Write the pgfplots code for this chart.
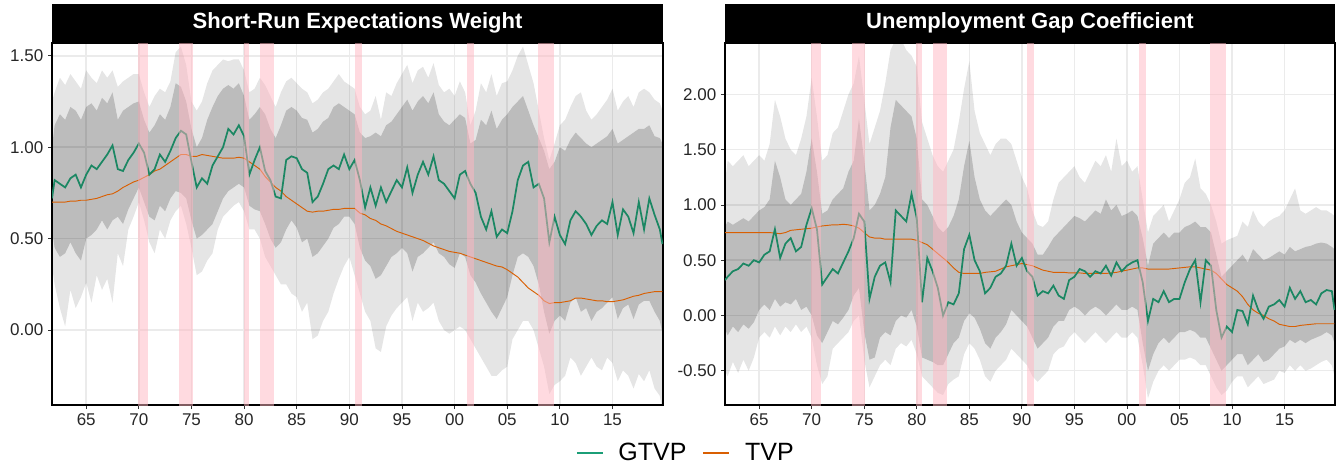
\documentclass[border=0pt]{standalone}
\usepackage{pgfplots}
\pgfplotsset{compat=1.18}
\usepackage{pgfplotstable}
\usepgfplotslibrary{fillbetween}
\usepackage{fontspec}
\setmainfont{Liberation Sans}

\definecolor{gtvp}{HTML}{1B8763}
\definecolor{gtvpkey}{HTML}{1B9E77}
\definecolor{tvp}{HTML}{D95F02}
\definecolor{recpink}{HTML}{FFB6C1}
\definecolor{gridc}{HTML}{EBEBEB}

% x: date, g: GTVP, t: TVP, a/d: outer band, b/c: inner band
\pgfplotstableread{
x g t a b c d
1961.75 0.72 0.70 0.35 0.55 1.00 1.25
1962.0 0.82 0.70 0.25 0.45 1.12 1.30
1962.5 0.80 0.70 0.12 0.40 1.18 1.38
1963.0 0.78 0.70 0.02 0.42 1.15 1.34
1963.5 0.83 0.705 0.22 0.48 1.22 1.40
1964.0 0.85 0.705 0.12 0.42 1.20 1.36
1964.5 0.78 0.71 0.18 0.38 1.15 1.32
1965.0 0.85 0.71 0.26 0.50 1.22 1.42
1965.5 0.90 0.715 0.15 0.52 1.24 1.38
1966.0 0.88 0.72 0.30 0.55 1.20 1.35
1966.5 0.92 0.73 0.22 0.60 1.27 1.42
1967.0 0.96 0.74 0.28 0.55 1.24 1.38
1967.5 1.01 0.745 0.15 0.60 1.30 1.42
1968.0 0.88 0.76 0.42 0.62 1.15 1.33
1968.5 0.87 0.78 0.35 0.58 1.20 1.36
1969.0 0.93 0.795 0.55 0.66 1.22 1.38
1969.5 0.97 0.81 0.62 0.72 1.24 1.40
1970.0 1.02 0.82 0.70 0.78 1.25 1.40
1970.5 0.97 0.835 0.60 0.70 1.15 1.30
1971.0 0.85 0.85 0.48 0.62 1.08 1.22
1971.5 0.88 0.87 0.42 0.60 1.12 1.28
1972.0 0.96 0.88 0.55 0.68 1.18 1.32
1972.5 0.92 0.90 0.50 0.65 1.15 1.30
1973.0 0.98 0.92 0.60 0.72 1.22 1.36
1973.5 1.05 0.94 0.65 0.76 1.35 1.52
1974.0 1.09 0.96 0.68 0.75 1.33 1.55
1974.5 1.07 0.96 0.58 0.72 1.25 1.45
1975.0 0.92 0.95 0.45 0.60 1.10 1.25
1975.5 0.78 0.95 0.30 0.50 1.00 1.20
1976.0 0.83 0.96 0.32 0.52 1.05 1.25
1976.5 0.80 0.955 0.38 0.55 1.15 1.35
1977.0 0.90 0.95 0.42 0.58 1.22 1.42
1977.5 0.95 0.945 0.55 0.65 1.28 1.45
1978.0 1.00 0.94 0.62 0.72 1.32 1.48
1978.5 1.10 0.94 0.65 0.76 1.34 1.47
1979.0 1.07 0.94 0.68 0.78 1.32 1.48
1979.5 1.12 0.945 0.70 0.80 1.35 1.48
1980.0 1.06 0.94 0.65 0.78 1.28 1.42
1980.5 0.85 0.92 0.55 0.68 1.15 1.30
1981.0 0.93 0.90 0.55 0.66 1.18 1.32
1981.5 1.00 0.88 0.50 0.65 1.22 1.38
1982.0 0.87 0.84 0.40 0.58 1.18 1.34
1982.5 0.82 0.81 0.35 0.50 1.10 1.28
1983.0 0.73 0.78 0.30 0.45 1.05 1.22
1983.5 0.72 0.76 0.25 0.48 1.12 1.30
1984.0 0.93 0.73 0.25 0.55 1.20 1.36
1984.5 0.95 0.71 0.20 0.60 1.22 1.38
1985.0 0.94 0.69 0.18 0.56 1.20 1.35
1985.5 0.88 0.67 0.10 0.48 1.16 1.32
1986.0 0.86 0.65 0.15 0.50 1.15 1.30
1986.5 0.70 0.645 -0.05 0.40 1.08 1.24
1987.0 0.73 0.65 -0.03 0.42 1.10 1.26
1987.5 0.80 0.65 0.05 0.46 1.14 1.30
1988.0 0.88 0.655 0.10 0.50 1.16 1.32
1988.5 0.90 0.66 0.20 0.56 1.22 1.36
1989.0 0.88 0.66 0.28 0.58 1.24 1.40
1989.5 0.96 0.665 0.35 0.62 1.22 1.36
1990.0 0.88 0.665 0.40 0.62 1.20 1.34
1990.5 0.93 0.665 0.30 0.58 1.18 1.32
1991.0 0.82 0.64 0.20 0.45 1.08 1.22
1991.5 0.67 0.63 0.10 0.38 1.05 1.18
1992.0 0.78 0.61 0.05 0.35 1.06 1.20
1992.5 0.68 0.60 -0.10 0.28 1.08 1.28
1993.0 0.78 0.58 -0.12 0.30 1.06 1.15
1993.5 0.70 0.57 0.02 0.35 1.12 1.30
1994.0 0.76 0.555 0.08 0.40 1.14 1.28
1994.5 0.82 0.54 0.12 0.42 1.18 1.35
1995.0 0.78 0.53 0.15 0.45 1.22 1.40
1995.5 0.89 0.52 0.18 0.42 1.26 1.45
1996.0 0.75 0.51 0.05 0.32 1.20 1.35
1996.5 0.85 0.50 0.15 0.40 1.25 1.42
1997.0 0.92 0.49 0.10 0.42 1.28 1.44
1997.5 0.85 0.475 0.12 0.45 1.24 1.38
1998.0 0.95 0.46 0.15 0.48 1.30 1.46
1998.5 0.82 0.45 0.05 0.42 1.18 1.34
1999.0 0.80 0.44 0.00 0.40 1.14 1.30
1999.5 0.76 0.43 -0.02 0.36 1.12 1.32
2000.0 0.72 0.425 0.00 0.34 1.15 1.28
2000.5 0.85 0.42 0.02 0.42 1.18 1.36
2001.0 0.87 0.41 0.00 0.40 1.16 1.30
2001.5 0.80 0.40 -0.05 0.30 1.02 1.12
2002.0 0.75 0.39 -0.10 0.26 1.04 1.20
2002.5 0.62 0.38 -0.15 0.20 1.15 1.35
2003.0 0.55 0.37 -0.20 0.15 1.12 1.30
2003.5 0.65 0.36 -0.25 0.10 1.20 1.40
2004.0 0.51 0.35 -0.25 0.06 1.10 1.28
2004.5 0.55 0.345 -0.22 0.12 1.15 1.35
2005.0 0.53 0.33 -0.20 0.18 1.18 1.36
2005.5 0.65 0.31 -0.05 0.30 1.22 1.42
2006.0 0.82 0.29 0.00 0.40 1.25 1.50
2006.5 0.90 0.26 0.05 0.42 1.28 1.55
2007.0 0.92 0.23 0.05 0.40 1.20 1.45
2007.5 0.78 0.21 0.00 0.35 1.12 1.35
2008.0 0.80 0.19 -0.10 0.25 1.05 1.20
2008.5 0.72 0.16 -0.20 0.10 0.98 1.05
2009.0 0.48 0.145 -0.35 -0.02 0.88 0.93
2009.5 0.62 0.15 -0.30 0.05 0.92 1.02
2010.0 0.52 0.15 -0.28 0.08 1.00 1.12
2010.5 0.47 0.155 -0.25 0.05 0.98 1.15
2011.0 0.60 0.16 -0.15 0.15 1.04 1.22
2011.5 0.65 0.175 -0.18 0.18 1.08 1.28
2012.0 0.62 0.175 -0.25 0.10 1.05 1.30
2012.5 0.58 0.17 -0.20 0.12 1.02 1.20
2013.0 0.52 0.165 -0.15 0.05 1.00 1.15
2013.5 0.57 0.16 -0.20 0.10 1.02 1.18
2014.0 0.60 0.16 -0.22 0.12 1.04 1.22
2014.5 0.58 0.155 -0.15 0.15 1.06 1.26
2015.0 0.70 0.155 -0.18 0.18 1.10 1.32
2015.5 0.52 0.16 -0.28 0.06 1.02 1.20
2016.0 0.66 0.165 -0.22 0.12 1.04 1.25
2016.5 0.62 0.175 -0.25 0.14 1.06 1.28
2017.0 0.53 0.185 -0.32 0.06 1.08 1.22
2017.5 0.70 0.19 -0.24 0.14 1.10 1.30
2018.0 0.55 0.20 -0.28 0.16 1.10 1.32
2018.5 0.72 0.205 -0.22 0.16 1.12 1.30
2019.0 0.63 0.21 -0.32 0.10 1.06 1.26
2019.5 0.55 0.21 -0.36 0.05 1.05 1.24
2019.75 0.47 0.21 -0.45 -0.02 1.02 1.20
}\srew

\pgfplotstableread{
x g t a b c d
1961.75 0.32 0.75 -0.50 -0.12 0.80 1.20
1962.0 0.35 0.75 -0.55 -0.18 0.85 1.40
1962.5 0.40 0.75 -0.42 -0.10 0.82 1.35
1963.0 0.42 0.75 -0.52 -0.15 0.85 1.40
1963.5 0.47 0.75 -0.40 -0.08 0.88 1.45
1964.0 0.45 0.75 -0.50 -0.12 0.85 1.35
1964.5 0.50 0.75 -0.38 -0.06 0.90 1.40
1965.0 0.48 0.75 -0.20 0.05 0.95 1.45
1965.5 0.55 0.75 -0.15 0.10 0.98 1.40
1966.0 0.58 0.75 -0.20 0.05 1.05 1.55
1966.5 0.78 0.745 -0.10 0.15 1.40 1.95
1967.0 0.52 0.74 -0.18 0.08 1.25 1.80
1967.5 0.65 0.75 -0.10 0.12 1.05 1.60
1968.0 0.70 0.77 -0.15 0.10 1.00 1.50
1968.5 0.58 0.775 -0.08 0.15 1.05 1.45
1969.0 0.62 0.78 -0.15 0.05 1.10 1.60
1969.5 0.82 0.785 -0.10 0.08 1.30 1.80
1970.0 0.97 0.79 -0.20 0.00 1.60 2.15
1970.5 0.78 0.80 -0.45 -0.18 1.30 1.80
1971.0 0.28 0.81 -0.62 -0.25 0.92 1.40
1971.5 0.35 0.815 -0.55 -0.15 0.95 1.45
1972.0 0.42 0.82 -0.30 -0.05 1.05 1.65
1972.5 0.38 0.82 -0.25 -0.08 1.10 1.70
1973.0 0.48 0.825 -0.20 -0.02 1.15 1.85
1973.5 0.58 0.82 -0.15 0.05 1.30 2.00
1974.0 0.70 0.81 -0.05 0.18 1.40 2.10
1974.5 0.92 0.79 0.00 0.25 1.78 2.35
1975.0 0.85 0.75 -0.40 -0.15 1.40 1.95
1975.5 0.15 0.71 -0.65 -0.40 0.95 1.55
1976.0 0.35 0.70 -0.55 -0.38 1.00 1.70
1976.5 0.45 0.70 -0.45 -0.20 1.10 1.85
1977.0 0.48 0.69 -0.40 -0.15 1.25 2.10
1977.5 0.30 0.69 -0.45 -0.18 1.70 2.40
1978.0 0.95 0.69 -0.30 -0.05 1.95 2.50
1978.5 0.90 0.69 -0.25 0.00 1.90 2.50
1979.0 0.85 0.69 -0.28 -0.02 1.85 2.40
1979.5 1.10 0.69 -0.22 0.05 1.80 2.35
1980.0 0.88 0.68 -0.35 -0.10 1.60 2.25
1980.5 0.12 0.66 -0.55 -0.38 1.05 1.75
1981.0 0.52 0.64 -0.60 -0.40 1.00 1.60
1981.5 0.40 0.60 -0.65 -0.42 0.90 1.45
1982.0 0.25 0.56 -0.70 -0.45 0.80 1.35
1982.5 0.00 0.52 -0.72 -0.45 0.75 1.30
1983.0 0.12 0.48 -0.62 -0.35 0.80 1.40
1983.5 0.10 0.43 -0.58 -0.25 0.90 1.50
1984.0 0.20 0.39 -0.55 -0.20 1.05 1.75
1984.5 0.60 0.38 -0.35 -0.05 1.35 2.05
1985.0 0.73 0.38 -0.25 0.02 1.58 2.30
1985.5 0.50 0.38 -0.30 -0.02 1.25 1.85
1986.0 0.40 0.38 -0.40 -0.12 1.05 1.65
1986.5 0.20 0.39 -0.55 -0.25 0.95 1.55
1987.0 0.25 0.395 -0.60 -0.30 0.90 1.45
1987.5 0.35 0.40 -0.50 -0.20 0.95 1.55
1988.0 0.38 0.42 -0.45 -0.15 1.00 1.60
1988.5 0.45 0.44 -0.40 -0.08 1.05 1.60
1989.0 0.65 0.45 -0.30 0.05 1.00 1.55
1989.5 0.45 0.46 -0.35 0.00 0.85 1.40
1990.0 0.52 0.47 -0.40 -0.05 0.75 1.25
1990.5 0.40 0.46 -0.45 -0.10 0.70 1.15
1991.0 0.35 0.45 -0.55 -0.20 0.65 0.95
1991.5 0.18 0.43 -0.60 -0.30 0.55 0.82
1992.0 0.22 0.41 -0.55 -0.25 0.55 0.80
1992.5 0.20 0.40 -0.50 -0.20 0.62 0.85
1993.0 0.27 0.39 -0.35 -0.10 0.70 1.05
1993.5 0.18 0.39 -0.30 -0.05 0.75 1.20
1994.0 0.15 0.39 -0.28 -0.05 0.80 1.25
1994.5 0.32 0.385 -0.20 0.05 0.85 1.30
1995.0 0.35 0.385 -0.15 0.08 0.90 1.35
1995.5 0.42 0.385 -0.20 0.05 0.88 1.25
1996.0 0.40 0.38 -0.25 0.00 0.85 1.20
1996.5 0.35 0.38 -0.20 0.05 0.90 1.30
1997.0 0.40 0.38 -0.15 0.08 0.95 1.40
1997.5 0.38 0.38 -0.20 0.05 0.92 1.35
1998.0 0.45 0.38 -0.25 0.00 1.05 1.45
1998.5 0.36 0.385 -0.20 0.05 0.95 1.30
1999.0 0.48 0.39 -0.15 0.10 1.00 1.60
1999.5 0.40 0.40 -0.20 0.05 0.90 1.35
2000.0 0.45 0.41 -0.20 0.05 0.92 1.40
2000.5 0.48 0.42 -0.15 0.08 0.95 1.30
2001.0 0.50 0.43 -0.20 0.05 0.90 1.35
2001.5 0.30 0.43 -0.45 -0.25 0.70 1.05
2002.0 -0.05 0.42 -0.75 -0.50 0.45 0.75
2002.5 0.15 0.42 -0.60 -0.35 0.65 0.90
2003.0 0.12 0.42 -0.50 -0.25 0.70 0.95
2003.5 0.22 0.42 -0.45 -0.20 0.75 1.00
2004.0 0.12 0.42 -0.50 -0.25 0.70 0.85
2004.5 0.15 0.425 -0.45 -0.20 0.75 0.95
2005.0 0.15 0.43 -0.40 -0.15 0.75 1.05
2005.5 0.30 0.435 -0.40 -0.15 0.80 1.20
2006.0 0.42 0.44 -0.38 -0.13 0.82 1.25
2006.5 0.50 0.44 -0.40 -0.15 0.85 1.42
2007.0 0.12 0.43 -0.45 -0.20 0.80 1.15
2007.5 0.50 0.42 -0.45 -0.20 0.80 1.10
2008.0 0.45 0.41 -0.55 -0.30 0.75 1.00
2008.5 0.05 0.38 -0.65 -0.40 0.55 0.85
2009.0 -0.20 0.33 -0.72 -0.50 0.35 0.65
2009.5 -0.10 0.28 -0.68 -0.45 0.40 0.68
2010.0 -0.15 0.25 -0.60 -0.40 0.45 0.70
2010.5 0.05 0.22 -0.55 -0.35 0.50 0.72
2011.0 0.04 0.17 -0.55 -0.35 0.55 0.85
2011.5 -0.08 0.10 -0.65 -0.45 0.48 0.80
2012.0 0.18 0.05 -0.60 -0.40 0.60 0.95
2012.5 0.05 0.02 -0.55 -0.35 0.55 0.85
2013.0 -0.03 0.00 -0.62 -0.42 0.50 0.80
2013.5 0.08 -0.03 -0.60 -0.40 0.52 0.85
2014.0 0.10 -0.05 -0.58 -0.35 0.55 0.88
2014.5 0.14 -0.08 -0.50 -0.30 0.58 0.90
2015.0 0.08 -0.09 -0.52 -0.28 0.55 0.95
2015.5 0.25 -0.10 -0.45 -0.22 0.62 1.05
2016.0 0.15 -0.10 -0.50 -0.25 0.58 1.15
2016.5 0.22 -0.09 -0.45 -0.22 0.60 0.95
2017.0 0.12 -0.085 -0.50 -0.25 0.62 0.92
2017.5 0.14 -0.08 -0.48 -0.22 0.63 0.95
2018.0 0.10 -0.075 -0.45 -0.20 0.65 0.98
2018.5 0.20 -0.075 -0.42 -0.18 0.66 0.95
2019.0 0.23 -0.075 -0.40 -0.15 0.65 0.95
2019.5 0.22 -0.075 -0.45 -0.18 0.62 0.92
2019.75 0.05 -0.075 -0.55 -0.25 0.60 0.90
}\ugap

\pgfplotsset{
  panel/.style={
    scale only axis, height=271.5pt, anchor=south west,
    xmin=1961.75, xmax=2019.8,
    xtick={1965,1970,...,2015},
    xticklabels={65,70,75,80,85,90,95,00,05,10,15},
    grid=major, major grid style={gridc, line width=1.1pt},
    tick pos=left, tick align=outside, major tick length=3pt,
    tick style={black!80, line width=0.6pt},
    axis line style={black, line width=0.9pt},
    ticklabel style={font=\fontsize{12.75}{14}\selectfont, text=black!85},
    every axis title shift=0pt,
    title style={at={(0.5,1)}, anchor=south, yshift=0pt, fill=black, text=white,
      inner sep=0pt, minimum height=29.25pt,
      font=\bfseries\fontsize{16.5}{18}\selectfont},
  },
  rec/.style={fill=recpink, fill opacity=0.5, draw=none, forget plot},
  edge/.style={draw=none, forget plot},
  gtvpline/.style={gtvp, line width=1.3pt},
  tvpline/.style={tvp, line width=0.7pt},
}

\newcommand\drawpanel[1]{%
  \addplot[edge, name path=A] table[x=x,y=a] {#1};
  \addplot[edge, name path=B] table[x=x,y=b] {#1};
  \addplot[edge, name path=C] table[x=x,y=c] {#1};
  \addplot[edge, name path=D] table[x=x,y=d] {#1};
  \addplot[fill=black, fill opacity=0.10, draw=none, forget plot] fill between[of=A and D];
  \addplot[fill=black, fill opacity=0.18, draw=none, forget plot] fill between[of=B and C];
  \addplot[tvpline, forget plot] table[x=x,y=t] {#1};
  \addplot[gtvpline, forget plot] table[x=x,y=g] {#1};
  \addplot[rec] coordinates {(1969.9,-5) (1969.9,5) (1970.85,5) (1970.85,-5)} -- cycle;
  \addplot[rec] coordinates {(1973.8,-5) (1973.8,5) (1975.1,5) (1975.1,-5)} -- cycle;
  \addplot[rec] coordinates {(1979.95,-5) (1979.95,5) (1980.5,5) (1980.5,-5)} -- cycle;
  \addplot[rec] coordinates {(1981.5,-5) (1981.5,5) (1982.85,5) (1982.85,-5)} -- cycle;
  \addplot[rec] coordinates {(1990.5,-5) (1990.5,5) (1991.2,5) (1991.2,-5)} -- cycle;
  \addplot[rec] coordinates {(2001.15,-5) (2001.15,5) (2001.85,5) (2001.85,-5)} -- cycle;
  \addplot[rec] coordinates {(2007.95,-5) (2007.95,5) (2009.45,5) (2009.45,-5)} -- cycle;
}

\begin{document}
\begin{tikzpicture}
\begin{axis}[panel, at={(39pt,48pt)}, width=458.25pt,
  ymin=-0.41, ymax=1.57,
  ytick={0,0.5,1,1.5}, yticklabels={0.00,0.50,1.00,1.50},
  title={Short-Run Expectations Weight},
  title style={minimum width=458.25pt},
  legend columns=2,
  legend style={at={(1.0356,-0.1326)}, anchor=center, draw=none, fill=none,
    font=\fontsize{18.75}{20}\selectfont,
    nodes={inner sep=0pt},
    /tikz/every odd column/.append style={column sep=11pt},
    /tikz/every even column/.append style={column sep=12pt}},
  legend image code/.code={\draw[#1, line width=1.5pt] (0pt,0pt) -- (19.5pt,0pt);},
]
\drawpanel{\srew}
\addlegendimage{gtvpkey}\addlegendentry{GTVP}
\addlegendimage{tvp}\addlegendentry{TVP}
\end{axis}

\begin{axis}[panel, at={(543.75pt,48pt)}, width=457.5pt,
  ymin=-0.81, ymax=2.465,
  ytick={-0.5,0,0.5,1,1.5,2}, yticklabels={-0.50,0.00,0.50,1.00,1.50,2.00},
  title={Unemployment Gap Coefficient},
  title style={minimum width=457.5pt},
]
\drawpanel{\ugap}
\end{axis}
\pgfresetboundingbox
\path[use as bounding box] (0,0) rectangle (1007.25pt,351.75pt);
\end{tikzpicture}
\end{document}
